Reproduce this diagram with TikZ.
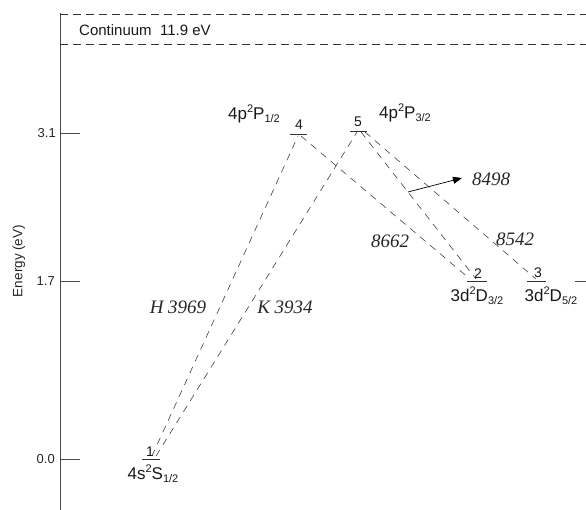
\documentclass[tikz,border=0pt]{standalone}
\usepackage{fontspec}
\setmainfont{Liberation Sans}
\newfontfamily\serifit{Liberation Serif}
\usetikzlibrary{arrows.meta}
\tikzset{
  lvl/.style={line width=0.6pt, draw=black!80},
  trans/.style={dash pattern=on 7pt off 6pt, line width=0.6pt, draw=black!75},
  cont/.style={dash pattern=on 8pt off 5pt, line width=0.6pt, draw=black!80},
  lbl/.style={font=\fontsize{17}{19}\selectfont, text=black!90, inner sep=0pt},
  num/.style={font=\fontsize{14}{16}\selectfont, text=black!90, inner sep=0pt},
  wl/.style={font=\serifit\itshape\fontsize{19}{21}\selectfont, text=black!85, inner sep=0pt},
  tick/.style={font=\fontsize{13}{15}\selectfont, text=black!85, inner sep=0pt, anchor=east},
}
\newcommand{\lvsub}[1]{\raisebox{-0.35ex}{\fontsize{11}{12}\selectfont #1}}
\newcommand{\lvsup}[1]{\raisebox{0.8ex}{\fontsize{11}{12}\selectfont #1}}
\begin{document}
\begin{tikzpicture}[x=1pt,y=-1pt]
\useasboundingbox (0,0) rectangle (586,510);
% axis
\draw[line width=0.7pt, draw=black!70] (60,13) -- (60,510);
\draw[line width=0.7pt, draw=black!70] (60,133) -- (80,133);
\draw[line width=0.7pt, draw=black!70] (60,281) -- (80,281);
\draw[line width=0.7pt, draw=black!70] (60,459) -- (80,459);
\draw[line width=0.7pt, draw=black!70] (575,281) -- (586,281);
\node[tick] (t31) at (56,133) {3.1};
\node[tick] (t17) at (55,281) {1.7};
\node[tick] (t00) at (55,459) {0.0};
\node[rotate=90, font=\fontsize{13.5}{15}\selectfont, text=black!85, inner sep=0pt] (ylab) at (19,261) {Energy (eV)};
% continuum
\draw[cont] (60,14) -- (586,14);
\draw[cont] (60,44) -- (586,44);
\node[font=\fontsize{15}{17}\selectfont, anchor=west, inner sep=0pt, text=black!90] (cont) at (79,30) {Continuum\ \ 11.9 eV};
% levels
\draw[lvl] (142,459) -- (160,459);
\draw[lvl] (290,134) -- (307,134);
\draw[lvl] (350,131) -- (367,131);
\draw[lvl] (467,281) -- (487,281);
\draw[lvl] (527,281) -- (546,281);
\coordinate (a1) at (152,456);
\coordinate (b1) at (156,456);
\coordinate (a4) at (298,136);
\coordinate (b4) at (301,136);
\coordinate (a5) at (357,132);
\coordinate (b5) at (361,132);
\coordinate (c5) at (365,132);
\coordinate (a2) at (470,279);
\coordinate (b2) at (476,279);
\coordinate (a3) at (536,279);
% level numbers
\node[num] (n1) at (150,452) {1};
\node[num] (n4) at (299,125) {4};
\node[num] (n5) at (358,122) {5};
\node[num] (n2) at (478,274) {2};
\node[num] (n3) at (538,273) {3};
% level labels
\node[lbl] (s1) at (153,474) {4s\lvsup{2}S\lvsub{1/2}};
\node[lbl] (p1) at (254,114) {4p\lvsup{2}P\lvsub{1/2}};
\node[lbl] (p3) at (405,113) {4p\lvsup{2}P\lvsub{3/2}};
\node[lbl] (d3) at (477,296) {3d\lvsup{2}D\lvsub{3/2}};
\node[lbl] (d5) at (551,296) {3d\lvsup{2}D\lvsub{5/2}};
% transitions
\draw[trans] (a1) -- (a4);
\draw[trans] (b1) -- (a5);
\draw[trans] (b4) -- (a2);
\draw[trans] (b5) -- (b2);
\draw[trans] (c5) -- (a3);
% arrow
\coordinate (ar0) at (408,192);
\coordinate (ar1) at (462,178);
\draw[line width=0.7pt, -{Triangle[length=9pt,width=7pt]}] (ar0) -- (ar1);
% wavelength labels
\node[wl] (w8498) at (491,179) {8498};
\node[wl] (w8662) at (390,241) {8662};
\node[wl] (w8542) at (515,239) {8542};
\node[wl] (wH) at (178,307) {H 3969};
\node[wl] (wK) at (285,307) {K 3934};
\end{tikzpicture}
\end{document}
